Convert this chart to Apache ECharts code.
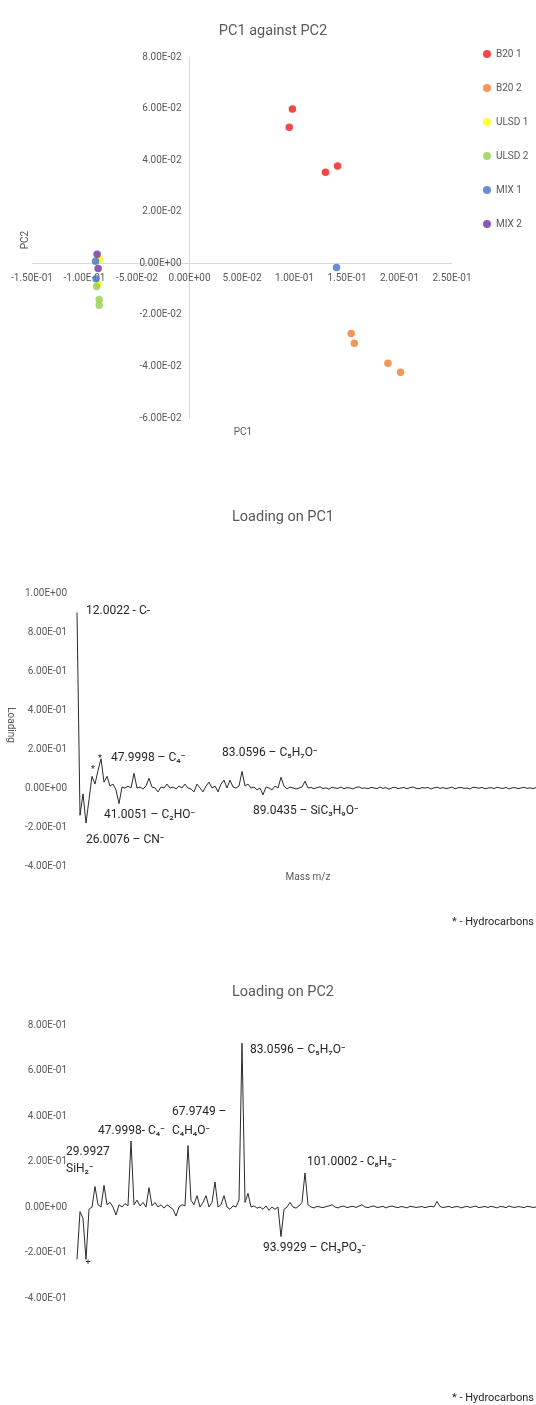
<!DOCTYPE html>
<html>
<head>
<meta charset="utf-8">
<script src="https://cdn.jsdelivr.net/npm/echarts@6/dist/echarts.min.js"></script>
<style>
  html, body { margin: 0; padding: 0; background: #fff; }
  #main { width: 536px; height: 1405px; }
</style>
</head>
<body>
<div id="main"></div>
<script>
// ---- data ----
const seriesNames = ['B20 1', 'B20 2', 'ULSD 1', 'ULSD 2', 'MIX 1', 'MIX 2'];
const seriesColors = ['#ee1c1c', '#ed7d31', '#ffff00', '#92d050', '#4472c4', '#7030a0'];
// [PC1, PC2]
const b20_1 = [[0.098, 0.0598], [0.095, 0.0528], [0.1295, 0.0353], [0.141, 0.0377]];
const b20_2 = [[0.154, -0.0272], [0.157, -0.031], [0.189, -0.0388], [0.201, -0.0423]];
const ulsd_1 = [[-0.086, 0.0015], [-0.087, -0.008]];
const ulsd_2 = [[-0.0885, -0.009], [-0.086, -0.014], [-0.086, -0.0163]];
const mix_1 = [[-0.0895, 0.0008], [-0.089, -0.006], [0.140, -0.0016]];
const mix_2 = [[-0.088, 0.0035], [-0.087, -0.002]];
const scatterData = [b20_1, b20_2, ulsd_1, ulsd_2, mix_1, mix_2];

const pcXTicks = { min: -0.15, max: 0.25, step: 0.05 };
const pcYTicks = { min: -0.06, max: 0.08, step: 0.02 };

// loading on PC1, one value per peak channel
const pc1Loading = [
  0.90, -0.14, -0.03, -0.18, -0.06, 0.06, 0.02, 0.09, 0.15, 0.03,
  0.06, 0.01, 0.02, -0.01, -0.08, 0.005, 0.0, 0.01, 0.0, 0.075,
  0.0, 0.005, -0.005, 0.01, 0.05, 0.005, 0.0, -0.02, 0.005, 0.0,
  0.02, 0.0, 0.005, -0.005, 0.01, 0.0, 0.02, 0.0, -0.005, -0.02,
  0.02, 0.0, -0.02, 0.01, 0.03, 0.0, 0.01, -0.02, 0.02, 0.04,
  0.0, 0.04, 0.005, 0.0, 0.01, 0.085, 0.01, 0.02, 0.0, 0.005,
  -0.01, 0.0, -0.035, 0.005, 0.0, -0.01, 0.01, 0.0, 0.055, 0.01,
  -0.005, 0.005, 0.0, -0.005, 0.0, 0.005, 0.035, 0.0,
  0.003, -0.004, 0.002, 0.006, -0.003, 0.001, -0.006, 0.004, 0.0, -0.002,
  0.005, -0.004, 0.002, 0.0, -0.005, 0.003, 0.006, -0.002, 0.001, -0.004,
  0.003, 0.0, -0.003, 0.005, -0.002, 0.002, -0.006, 0.001, 0.004, -0.003,
  0.0, 0.003, -0.004, 0.002, 0.005, -0.001, -0.004, 0.002, 0.0, 0.003,
  -0.005, 0.001, 0.004, -0.002, 0.002, -0.003, 0.0, 0.005, -0.004, 0.001,
  0.003, -0.002, 0.0, -0.005, 0.004, 0.002, -0.001, 0.003, -0.004, 0.0,
  0.002, -0.003, 0.004, 0.0, -0.002, 0.003, -0.005, 0.001, 0.002, -0.003,
  0.0, 0.004, -0.002, 0.001, -0.003, 0.002
];

// loading on PC2
const pc2Loading = [
  -0.23, -0.02, -0.05, -0.23, -0.01, 0.0, 0.09, 0.01, 0.0, 0.095,
  0.01, 0.02, 0.0, -0.035, 0.01, 0.0, 0.015, 0.005, 0.29, 0.01,
  0.03, 0.005, 0.02, 0.0, 0.085, 0.005, 0.02, 0.0, 0.01, -0.005,
  0.01, 0.0, -0.01, -0.04, 0.0, 0.01, 0.005, 0.27, 0.03, 0.01,
  0.05, 0.0, 0.02, 0.05, 0.0, 0.02, 0.11, 0.0, 0.01, 0.05,
  0.0, -0.01, 0.005, 0.0, 0.03, 0.72, 0.02, 0.06, 0.0, 0.005,
  -0.005, 0.0, -0.01, 0.005, -0.015, 0.0, -0.01, 0.0, -0.13, -0.01,
  0.0, 0.02, 0.0, -0.005, 0.005, 0.02, 0.15, 0.01,
  0.0, -0.004, 0.003, 0.0, -0.003, 0.002, 0.005, 0.01, 0.0, -0.004,
  0.002, 0.004, -0.003, 0.001, 0.003, -0.002, 0.004, 0.01, 0.0, -0.003,
  0.002, 0.005, -0.002, 0.0, 0.003, -0.004, 0.002, 0.004, 0.0, -0.003,
  0.002, 0.0, -0.004, 0.003, 0.001, -0.002, 0.0, 0.002, -0.003, 0.001,
  0.003, 0.0, 0.025, 0.002, -0.002, 0.0, 0.003, -0.003, 0.001, 0.002,
  -0.004, 0.0, 0.003, -0.002, 0.001, 0.004, -0.003, 0.0, 0.002, -0.002,
  0.003, 0.0, -0.004, 0.002, 0.001, -0.003, 0.004, 0.0, -0.002, 0.002,
  0.0, -0.003, 0.003, 0.001, -0.002, 0.0
];
const channels = pc1Loading.map((_, i) => i);

// ---- layout / styling ----
const FONT = "Roboto, 'Liberation Sans', sans-serif";
const GREY = '#595959';
const DARK = '#262626';

function sci(v) {
  const s = Number(v).toExponential(2);
  const parts = s.split('e');
  const n = parseInt(parts[1], 10);
  return parts[0] + 'E' + (n < 0 ? '-' : '+') + String(Math.abs(n)).padStart(2, '0');
}

// scatter grid, axes cross at zero like the Excel original
const g0 = { left: 32, top: 57, width: 420, height: 361 };
const zeroX = (0 - pcXTicks.min) / (pcXTicks.max - pcXTicks.min) * g0.width;
const zeroY = (pcYTicks.max - 0) / (pcYTicks.max - pcYTicks.min) * g0.height;

const notes = [
  ['12.0022 - C-', 86, 611],
  ['47.9998 – C₄⁻', 111, 758],
  ['41.0051 – C₂HO⁻', 104, 815],
  ['26.0076 – CN⁻', 86, 840],
  ['83.0596 – C₅H₇O⁻', 222, 753],
  ['89.0435 – SiC₃H₉O⁻', 253, 811],
  ['29.9927', 66, 1152],
  ['SiH₂⁻', 66, 1169],
  ['47.9998- C₄⁻', 98, 1131],
  ['67.9749 –', 172, 1112],
  ['C₄H₄O⁻', 172, 1131],
  ['83.0596 – C₅H₇O⁻', 250, 1050],
  ['101.0002 - C₈H₅⁻', 307, 1162],
  ['93.9929 – CH₃PO₃⁻', 263, 1248]
];
const stars = [['*', 93, 770], ['*', 100, 759], ['+', 88, 1263]];
const greyTexts = [
  ['PC1', 243, 432, 0],
  ['PC2', 25, 240, 90],
  ['Loading', 10, 725, -90],
  ['Mass m/z', 308, 877, 0]
];
const footers = [['* - Hydrocarbons', 534, 922], ['* - Hydrocarbons', 534, 1398]];

const graphic = [];
notes.forEach(n => graphic.push({
  type: 'text', x: n[1], y: n[2],
  style: { text: n[0], fill: DARK, font: '12px ' + FONT, align: 'left', verticalAlign: 'middle' }
}));
stars.forEach(n => graphic.push({
  type: 'text', x: n[1], y: n[2],
  style: { text: n[0], fill: DARK, font: '9px ' + FONT, align: 'center', verticalAlign: 'middle' }
}));
greyTexts.forEach(n => graphic.push({
  type: 'text', x: n[1], y: n[2], rotation: n[3] * Math.PI / 180,
  style: { text: n[0], fill: GREY, font: '10px ' + FONT, align: 'center', verticalAlign: 'middle' }
}));
footers.forEach(n => graphic.push({
  type: 'text', x: n[1], y: n[2],
  style: { text: n[0], fill: DARK, font: '11px ' + FONT, align: 'right', verticalAlign: 'middle' }
}));

const valueLabel = { color: GREY, fontSize: 10, fontFamily: FONT, formatter: sci };
const titleStyle = { color: GREY, fontSize: 14.5, fontWeight: 'normal', fontFamily: FONT };

const option = {
  animation: false,
  backgroundColor: '#fff',
  textStyle: { fontFamily: FONT },
  title: [
    { text: 'PC1 against PC2', left: 268, top: 19, textAlign: 'center', textStyle: titleStyle },
    { text: 'Loading on PC1', left: 278, top: 505, textAlign: 'center', textStyle: titleStyle },
    { text: 'Loading on PC2', left: 278, top: 980, textAlign: 'center', textStyle: titleStyle }
  ],
  legend: {
    orient: 'vertical', left: 478, top: 44, itemGap: 24,
    icon: 'circle', itemWidth: 8, itemHeight: 8,
    textStyle: { color: GREY, fontSize: 10, fontFamily: FONT },
    data: seriesNames
  },
  graphic: graphic,
  grid: [
    Object.assign({ outerBoundsMode: 'none' }, g0),
    { left: 77, top: 593, width: 459, height: 273, outerBoundsMode: 'none' },
    { left: 77, top: 1025, width: 459, height: 273, outerBoundsMode: 'none' }
  ],
  xAxis: [
    { gridIndex: 0, type: 'value', min: pcXTicks.min, max: pcXTicks.max, interval: pcXTicks.step,
      position: 'bottom', offset: -(g0.height - zeroY),
      axisLine: { show: true, onZero: false, lineStyle: { color: '#d9d9d9' } },
      axisTick: { show: false }, splitLine: { show: false },
      axisLabel: Object.assign({ margin: 10 }, valueLabel) },
    { gridIndex: 1, type: 'category', data: channels, boundaryGap: false, show: false },
    { gridIndex: 2, type: 'category', data: channels, boundaryGap: false, show: false }
  ],
  yAxis: [
    { gridIndex: 0, type: 'value', min: pcYTicks.min, max: pcYTicks.max, interval: pcYTicks.step,
      position: 'left', offset: -zeroX,
      axisLine: { show: true, onZero: false, lineStyle: { color: '#d9d9d9' } },
      axisTick: { show: false }, splitLine: { show: false },
      axisLabel: Object.assign({ margin: 8 }, valueLabel) },
    { gridIndex: 1, type: 'value', min: -0.4, max: 1.0, interval: 0.2,
      axisLine: { show: false }, axisTick: { show: false }, splitLine: { show: false },
      axisLabel: Object.assign({ margin: 10 }, valueLabel) },
    { gridIndex: 2, type: 'value', min: -0.4, max: 0.8, interval: 0.2,
      axisLine: { show: false }, axisTick: { show: false }, splitLine: { show: false },
      axisLabel: Object.assign({ margin: 10 }, valueLabel) }
  ],
  series: seriesNames.map((name, k) => ({
    name: name, type: 'scatter', xAxisIndex: 0, yAxisIndex: 0,
    symbolSize: 7.5, itemStyle: { color: seriesColors[k] },
    data: scatterData[k]
  })).concat([
    { name: 'PC1 loading', type: 'line', xAxisIndex: 1, yAxisIndex: 1,
      data: pc1Loading, symbol: 'none',
      lineStyle: { color: '#2b2b2b', width: 1 } },
    { name: 'PC2 loading', type: 'line', xAxisIndex: 2, yAxisIndex: 2,
      data: pc2Loading, symbol: 'none',
      lineStyle: { color: '#2b2b2b', width: 1 } }
  ])
};

const myChart = echarts.init(document.getElementById('main'));
myChart.setOption(option);
</script>
</body>
</html>
